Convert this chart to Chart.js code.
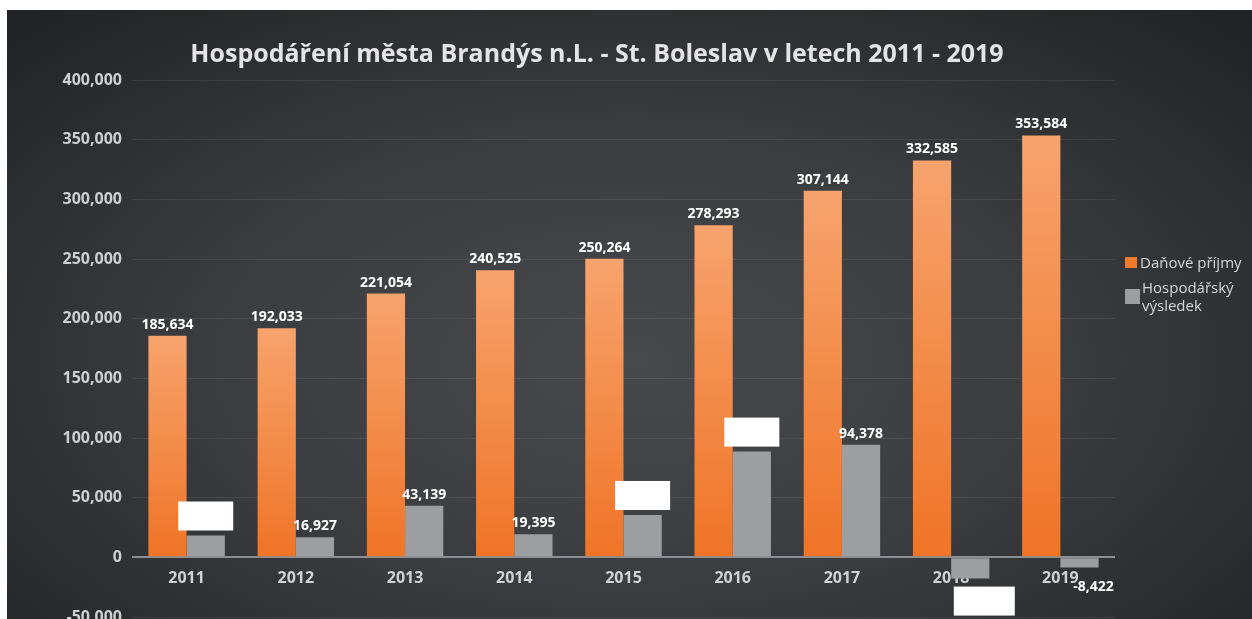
<!DOCTYPE html>
<html lang="cs">
<head>
    <meta charset="UTF-8">
    <title>Hospodaření města Brandýs n.L. - St. Boleslav v letech 2011 - 2019</title>
    <script src="https://cdn.jsdelivr.net/npm/chart.js"></script>
    <style>
        html, body { margin: 0; padding: 0; background: #ffffff; overflow: hidden; width: 1252px; height: 619px; }
        #panel {
            position: absolute; left: 7px; top: 10px; width: 1245px; height: 640px;
            background: radial-gradient(ellipse 75% 80% at 50% 55%, #47494c 0%, #3a3c3f 45%, #262729 85%, #1f2022 100%);
        }
        #myChart { position: absolute; left: 0; top: 0; }
        #title {
            position: absolute; left: 0; top: 25px; width: 1180px; text-align: center;
            font: bold 25px 'Open Sans', sans-serif; color: #e4e4e4; line-height: 34px;
        }
        #legend {
            position: absolute; left: 1118px; top: 243px;
            font: 15px 'Open Sans', sans-serif; color: #d6d6d6; line-height: 18px;
        }
        .item { display: flex; align-items: center; margin-bottom: 7px; white-space: nowrap; }
        .box { display: inline-block; margin-right: 3px; flex: none; }
    </style>
</head>
<body>
<div id="panel">
    <canvas id="myChart" width="1245" height="640"></canvas>
    <div id="title">Hospodáření města Brandýs n.L. - St. Boleslav v letech 2011 - 2019</div>
    <div id="legend">
        <div class="item"><span class="box" style="width:12px;height:11px;background:#f07a2c"></span>Daňové příjmy</div>
        <div class="item"><span class="box" style="width:15px;height:15px;background:#9c9ea1;margin-right:2px"></span><span>Hospodářský<br>výsledek</span></div>
    </div>
</div>

<script>
    // data
    const years = ['2011', '2012', '2013', '2014', '2015', '2016', '2017', '2018', '2019'];
    const danovePrijmy = [185634, 192033, 221054, 240525, 250264, 278293, 307144, 332585, 353584];
    const hospVysledek = [18300, 16927, 43139, 19395, 35500, 88600, 94378, -17800, -8422];
    // labels that are covered by a white box in the original
    const coveredLabels = [true, false, false, false, true, true, false, true, false];

    const fmt = v => v.toLocaleString('en-US');

    function orangeFill(ctx) {
        const chart = ctx.chart;
        if (!chart.chartArea || ctx.type !== 'data') return '#f07a2c';
        const y = chart.scales.y;
        const top = y.getPixelForValue(ctx.raw);
        const bottom = y.getPixelForValue(0);
        const g = chart.ctx.createLinearGradient(0, top, 0, bottom);
        g.addColorStop(0, '#f7a36d');
        g.addColorStop(1, '#ef7426');
        return g;
    }

    const valueLabels = {
        id: 'valueLabels',
        afterDatasetsDraw(chart) {
            const c = chart.ctx;
            c.save();
            c.font = 'bold 14px "Open Sans", sans-serif';
            c.textAlign = 'center';
            c.textBaseline = 'middle';
            chart.data.datasets.forEach((ds, di) => {
                chart.getDatasetMeta(di).data.forEach((bar, i) => {
                    const v = ds.data[i];
                    const neg = v < 0;
                    const x = bar.x + (neg ? 14 : 0);
                    const y = neg ? bar.y + 20 : bar.y - 11;
                    if (di === 1 && coveredLabels[i]) {
                        const w = neg ? 61 : 55, h = 29;
                        const by = neg ? bar.y + 8 : bar.y - 5 - h;
                        c.fillStyle = '#ffffff';
                        c.fillRect(x - w / 2, by, w, h);
                        return;
                    }
                    c.fillStyle = '#ffffff';
                    c.fillText(fmt(v), x, y);
                });
            });
            c.restore();
        }
    };

    const ctx = document.getElementById('myChart').getContext('2d');
    new Chart(ctx, {
        type: 'bar',
        data: {
            labels: years,
            datasets: [
                {
                    label: 'Daňové příjmy',
                    data: danovePrijmy,
                    backgroundColor: orangeFill,
                    categoryPercentage: 0.7,
                    barPercentage: 1.0
                },
                {
                    label: 'Hospodářský výsledek',
                    data: hospVysledek,
                    backgroundColor: '#9c9ea1',
                    categoryPercentage: 0.7,
                    barPercentage: 1.0
                }
            ]
        },
        options: {
            responsive: false,
            animation: false,
            layout: { padding: { left: 0, right: 137, top: 70, bottom: 33 } },
            scales: {
                x: {
                    position: { y: 0 },
                    grid: { display: false },
                    border: { display: false },
                    ticks: {
                        color: '#d2d2d2',
                        padding: 4,
                        font: { family: 'Open Sans', size: 16, weight: 'bold' }
                    }
                },
                y: {
                    min: -50000,
                    max: 400000,
                    afterFit(scale) { scale.width = 125; },
                    border: { display: false },
                    grid: {
                        drawTicks: false,
                        color: c => c.tick && c.tick.value === 0 ? '#8b8e92' : 'rgba(255,255,255,0.08)',
                        lineWidth: c => c.tick && c.tick.value === 0 ? 2 : 1
                    },
                    ticks: {
                        stepSize: 50000,
                        padding: 10,
                        color: '#cfcfcf',
                        font: { family: 'Open Sans', size: 16, weight: 'bold' },
                        callback: v => fmt(v)
                    }
                }
            },
            plugins: {
                legend: { display: false },
                title: { display: false },
                tooltip: { enabled: false }
            }
        },
        plugins: [valueLabels]
    });
</script>
</body>
</html>
